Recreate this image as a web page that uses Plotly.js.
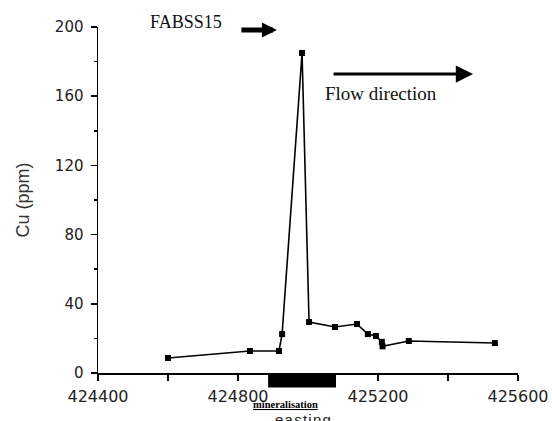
<!DOCTYPE html>
<html>
<head>
<meta charset="utf-8">
<script src="https://cdn.plot.ly/plotly-3.0.1.min.js"></script>
<style>html,body{margin:0;padding:0;background:#fff;}#chart{width:552px;height:421px;}</style>
</head>
<body>
<div id="chart"></div>
<script>
// Data
const easting = [424600, 424834, 424917, 424926, 424983, 425003, 425077, 425140, 425171, 425194, 425211, 425213, 425288, 425534];
const cuPpm   = [8.7, 12.7, 12.7, 22.5, 185, 29.5, 26.6, 28.3, 22.5, 21.4, 18, 15.4, 18.5, 17.3];
const mineralisationZone = [424886, 425080];
const xTickVals = [424400, 424800, 425200, 425600];
const yTickVals = [0, 40, 80, 120, 160, 200];

const trace = {
  x: easting, y: cuPpm, type: 'scatter', mode: 'lines+markers',
  line: {color: '#000', width: 1.6},
  marker: {symbol: 'square', size: 6, color: '#000'},
  cliponaxis: false, hoverinfo: 'none'
};

const tickFont = {family: 'DejaVu Sans, Arial, sans-serif', size: 15, color: '#222'};
const serif = 'Liberation Serif, Times New Roman, serif';

const layout = {
  width: 552, height: 421,
  margin: {l: 98, r: 34, t: 27, b: 48},
  paper_bgcolor: '#fff', plot_bgcolor: '#fff',
  showlegend: false,
  xaxis: {
    range: [424400, 425600], tickvals: xTickVals, ticktext: xTickVals.map(String),
    showgrid: false, zeroline: false, showline: true, linecolor: '#000', linewidth: 1.5,
    ticks: 'outside', ticklen: 6, tickwidth: 1.5, tickcolor: '#000',
    minor: {dtick: 200, tick0: 424400, ticks: 'outside', ticklen: 6, tickwidth: 1.5, tickcolor: '#000'},
    tickfont: {family: 'DejaVu Sans, Arial, sans-serif', size: 16, color: '#222'},
    ticklabelstandoff: 2, fixedrange: true
  },
  yaxis: {
    range: [0, 200], tickvals: yTickVals,
    showgrid: false, zeroline: false, showline: true, linecolor: '#000', linewidth: 1.5,
    ticks: 'outside', ticklen: 6, tickwidth: 1.5, tickcolor: '#000',
    minor: {dtick: 20, tick0: 0, ticks: 'outside', ticklen: 3, tickwidth: 1.5, tickcolor: '#000'},
    tickfont: tickFont, ticklabelstandoff: 4,
    title: {text: 'Cu (ppm)', font: {family: 'Liberation Sans, Arial, sans-serif', size: 18, color: '#333'}, standoff: 20},
    automargin: false, fixedrange: true
  },
  shapes: [{
    type: 'rect', xref: 'x', yref: 'paper',
    x0: mineralisationZone[0], x1: mineralisationZone[1], y0: 0, y1: -0.042,
    fillcolor: '#000', line: {width: 0}, layer: 'above'
  }],
  annotations: [
    {xref: 'paper', yref: 'paper', x: 0.2095, y: 1.0145, xanchor: 'center', yanchor: 'middle',
     text: 'FABSS15', showarrow: false, font: {family: serif, size: 18, color: '#111'}},
    {xref: 'paper', yref: 'paper', x: 0.426, y: 0.991, ax: -37, ay: 0, text: '', showarrow: true,
     arrowhead: 2, arrowsize: 0.6, arrowwidth: 5, arrowcolor: '#000'},
    {xref: 'paper', yref: 'paper', x: 0.893, y: 0.864, ax: -141, ay: 0, text: '', showarrow: true,
     arrowhead: 2, arrowsize: 1.15, arrowwidth: 3, arrowcolor: '#000'},
    {xref: 'paper', yref: 'paper', x: 0.674, y: 0.809, xanchor: 'center', yanchor: 'middle',
     text: 'Flow direction', showarrow: false, font: {family: serif, size: 19, color: '#111'}},
    {xref: 'paper', yref: 'paper', x: 0.447, y: -0.092, xanchor: 'center', yanchor: 'middle',
     text: '<b><u>mineralisation</u></b>', showarrow: false, font: {family: serif, size: 10.5, color: '#000'}},
    {xref: 'paper', yref: 'paper', x: 0.488, y: -0.104, xanchor: 'center', yanchor: 'top',
     text: 'e\u200Aa\u200As\u200At\u200Ai\u200An\u200Ag', showarrow: false,
     font: {family: 'Liberation Sans, Arial, sans-serif', size: 15, color: '#222'}}
  ]
};

Plotly.newPlot('chart', [trace], layout, {staticPlot: true, displayModeBar: false});
</script>
</body>
</html>
